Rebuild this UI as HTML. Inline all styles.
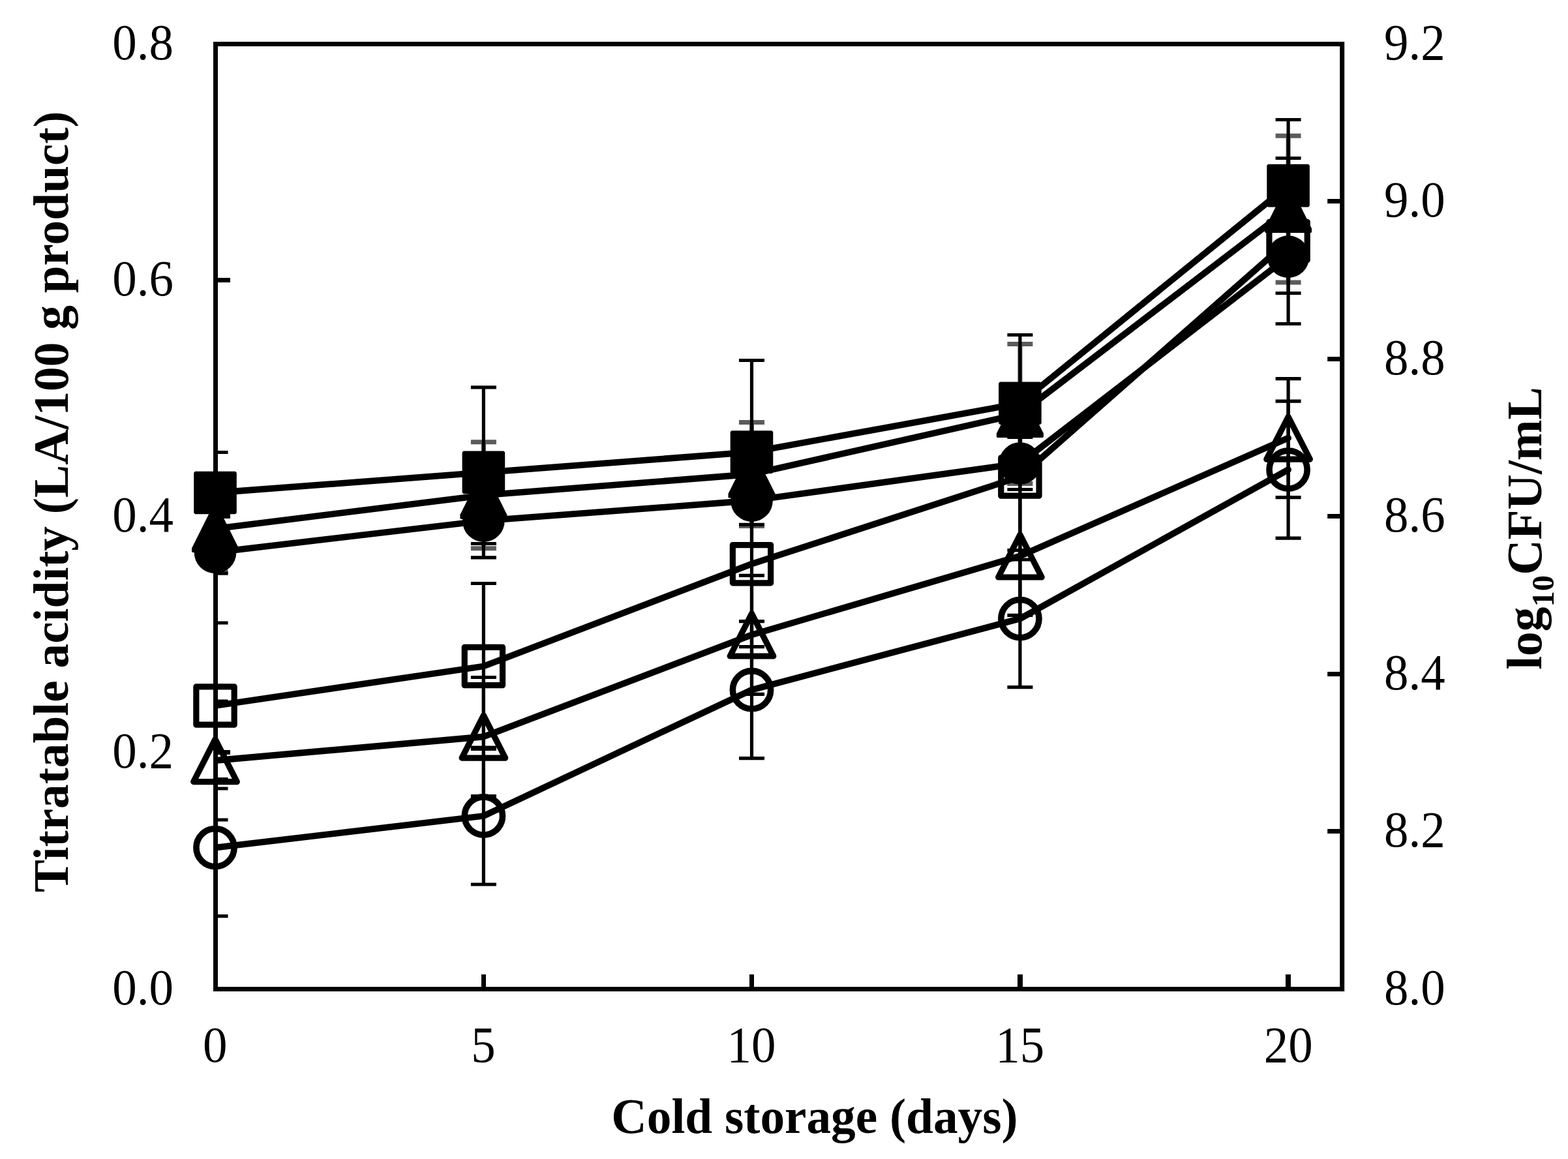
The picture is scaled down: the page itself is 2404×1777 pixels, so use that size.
<!DOCTYPE html>
<html lang="en"><head><meta charset="utf-8"><title>Titratable acidity and viable counts during cold storage</title>
<style>html,body{margin:0;padding:0;background:#fff}body{width:2404px;height:1777px;overflow:hidden}svg{display:block}text{font-family:"Liberation Serif","DejaVu Serif",serif;fill:#000}</style></head><body>
<svg role="img" aria-label="Titratable acidity and viable counts during cold storage" width="2404" height="1777" viewBox="0 0 2404 1777">
<rect width="2404" height="1777" fill="#fff"/>
<defs><clipPath id="plot"><rect x="329.00" y="67.50" width="1728.70" height="1449.00"/></clipPath></defs>
<rect x="330.50" y="67.50" width="1727.20" height="1449.00" fill="none" stroke="#000" stroke-width="7.00" stroke-linejoin="miter"/>
<path d="M330.50 1153.50H353.00M330.50 791.50H353.00M330.50 429.50H353.00M2057.70 1274.50H2035.20M2057.70 1033.50H2035.20M2057.70 791.50H2035.20M2057.70 550.50H2035.20M2057.70 308.50H2035.20" fill="none" stroke="#000" stroke-width="7.00"/>
<rect x="738" y="1494" width="7" height="22" fill="#000"/>
<rect x="1149" y="1494" width="7" height="22" fill="#000"/>
<rect x="1560" y="1494" width="8" height="22" fill="#000"/>
<rect x="1971" y="1494" width="8" height="22" fill="#000"/>
<g clip-path="url(#plot)">
<path d="M330.00 744.10V877.10M310.50 744.10h39.00M310.50 877.10h39.00" fill="none" stroke="#5c5c5c" stroke-width="7.00"/>
<path d="M741.40 677.80V840.80M721.90 677.80h39.00M721.90 840.80h39.00" fill="none" stroke="#5c5c5c" stroke-width="7.00"/>
<path d="M1152.50 647.50V806.50M1133.00 647.50h39.00M1133.00 806.50h39.00" fill="none" stroke="#5c5c5c" stroke-width="7.00"/>
<path d="M1563.90 527.60V741.40M1544.40 527.60h39.00M1544.40 741.40h39.00" fill="none" stroke="#5c5c5c" stroke-width="7.00"/>
<path d="M1975.10 208.20V433.00M1955.60 208.20h39.00M1955.60 433.00h39.00" fill="none" stroke="#5c5c5c" stroke-width="7.00"/>
<path d="M330.00 693.50V817.50M310.50 693.50h39.00M310.50 817.50h39.00" fill="none" stroke="#000" stroke-width="5.20"/>
<path d="M741.40 593.90V854.90M721.90 593.90h39.00M721.90 854.90h39.00" fill="none" stroke="#000" stroke-width="5.20"/>
<path d="M1152.50 552.50V833.70M1133.00 552.50h39.00M1133.00 833.70h39.00" fill="none" stroke="#000" stroke-width="5.20"/>
<path d="M1563.90 513.50V723.10M1544.40 513.50h39.00M1544.40 723.10h39.00" fill="none" stroke="#000" stroke-width="5.20"/>
<path d="M1975.10 183.50V385.70M1955.60 183.50h39.00M1955.60 385.70h39.00" fill="none" stroke="#000" stroke-width="5.20"/>
<path d="M330.00 814.40V879.20M310.50 814.40h39.00M310.50 879.20h39.00" fill="none" stroke="#000" stroke-width="5.20"/>
<path d="M741.40 763.50V833.50M721.90 763.50h39.00M721.90 833.50h39.00" fill="none" stroke="#000" stroke-width="5.20"/>
<path d="M1152.50 730.60V804.40M1133.00 730.60h39.00M1133.00 804.40h39.00" fill="none" stroke="#000" stroke-width="5.20"/>
<path d="M1563.90 670.50V750.50M1544.40 670.50h39.00M1544.40 750.50h39.00" fill="none" stroke="#000" stroke-width="5.20"/>
<path d="M1975.10 337.70V449.50M1955.60 337.70h39.00M1955.60 449.50h39.00" fill="none" stroke="#000" stroke-width="5.20"/>
<path d="M330.00 955.00V1209.00M310.50 955.00h39.00M310.50 1209.00h39.00" fill="none" stroke="#000" stroke-width="5.20"/>
<path d="M741.40 894.50V1148.50M721.90 894.50h39.00M721.90 1148.50h39.00" fill="none" stroke="#000" stroke-width="5.20"/>
<path d="M1152.50 737.70V991.70M1133.00 737.70h39.00M1133.00 991.70h39.00" fill="none" stroke="#000" stroke-width="5.20"/>
<path d="M1563.90 604.00V858.00M1544.40 604.00h39.00M1544.40 858.00h39.00" fill="none" stroke="#000" stroke-width="5.20"/>
<path d="M1975.10 242.50V496.50M1955.60 242.50h39.00M1955.60 496.50h39.00" fill="none" stroke="#000" stroke-width="5.20"/>
<path d="M330.00 1075.00V1257.00M310.50 1075.00h39.00M310.50 1257.00h39.00" fill="none" stroke="#000" stroke-width="5.20"/>
<path d="M741.40 1038.50V1220.50M721.90 1038.50h39.00M721.90 1220.50h39.00" fill="none" stroke="#000" stroke-width="5.20"/>
<path d="M1152.50 882.40V1064.40M1133.00 882.40h39.00M1133.00 1064.40h39.00" fill="none" stroke="#000" stroke-width="5.20"/>
<path d="M1563.90 761.40V943.40M1544.40 761.40h39.00M1544.40 943.40h39.00" fill="none" stroke="#000" stroke-width="5.20"/>
<path d="M1975.10 580.60V762.60M1955.60 580.60h39.00M1955.60 762.60h39.00" fill="none" stroke="#000" stroke-width="5.20"/>
<path d="M330.00 1194.60V1404.60M310.50 1194.60h39.00M310.50 1404.60h39.00" fill="none" stroke="#000" stroke-width="5.20"/>
<path d="M741.40 1146.00V1356.00M721.90 1146.00h39.00M721.90 1356.00h39.00" fill="none" stroke="#000" stroke-width="5.20"/>
<path d="M1152.50 952.70V1162.70M1133.00 952.70h39.00M1133.00 1162.70h39.00" fill="none" stroke="#000" stroke-width="5.20"/>
<path d="M1563.90 843.60V1053.60M1544.40 843.60h39.00M1544.40 1053.60h39.00" fill="none" stroke="#000" stroke-width="5.20"/>
<path d="M1975.10 615.10V825.10M1955.60 615.10h39.00M1955.60 825.10h39.00" fill="none" stroke="#000" stroke-width="5.20"/>
<polyline points="330.00,755.50 741.40,724.40 1152.50,693.10 1563.90,618.30 1975.10,284.60" fill="none" stroke="#000" stroke-width="9.80" stroke-linejoin="round" stroke-linecap="round"/>
<polyline points="330.00,810.60 741.40,759.30 1152.50,727.00 1563.90,634.50 1975.10,320.60" fill="none" stroke="#000" stroke-width="9.80" stroke-linejoin="round" stroke-linecap="round"/>
<polyline points="330.00,846.80 741.40,798.50 1152.50,767.50 1563.90,710.50 1975.10,393.60" fill="none" stroke="#000" stroke-width="9.80" stroke-linejoin="round" stroke-linecap="round"/>
<polyline points="330.00,1082.00 741.40,1021.50 1152.50,864.70 1563.90,731.00 1975.10,369.50" fill="none" stroke="#000" stroke-width="9.80" stroke-linejoin="round" stroke-linecap="round"/>
<polyline points="330.00,1166.00 741.40,1129.50 1152.50,973.40 1563.90,852.40 1975.10,671.60" fill="none" stroke="#000" stroke-width="9.80" stroke-linejoin="round" stroke-linecap="round"/>
<polyline points="330.00,1299.60 741.40,1251.00 1152.50,1057.70 1563.90,948.60 1975.10,720.10" fill="none" stroke="#000" stroke-width="9.80" stroke-linejoin="round" stroke-linecap="round"/>
</g>
<circle cx="330.00" cy="1299.60" r="29.10" fill="none" stroke="#000" stroke-width="9.60"/>
<circle cx="741.40" cy="1251.00" r="29.10" fill="none" stroke="#000" stroke-width="9.60"/>
<circle cx="1152.50" cy="1057.70" r="29.10" fill="none" stroke="#000" stroke-width="9.60"/>
<circle cx="1563.90" cy="948.60" r="29.10" fill="none" stroke="#000" stroke-width="9.60"/>
<circle cx="1975.10" cy="720.10" r="29.10" fill="none" stroke="#000" stroke-width="9.60"/>
<path d="M330.00 1133.40L363.30 1198.60L296.70 1198.60Z" fill="none" stroke="#000" stroke-width="9.20" stroke-linejoin="round"/>
<path d="M741.40 1096.90L774.70 1162.10L708.10 1162.10Z" fill="none" stroke="#000" stroke-width="9.20" stroke-linejoin="round"/>
<path d="M1152.50 940.80L1185.80 1006.00L1119.20 1006.00Z" fill="none" stroke="#000" stroke-width="9.20" stroke-linejoin="round"/>
<path d="M1563.90 819.80L1597.20 885.00L1530.60 885.00Z" fill="none" stroke="#000" stroke-width="9.20" stroke-linejoin="round"/>
<path d="M1975.10 639.00L2008.40 704.20L1941.80 704.20Z" fill="none" stroke="#000" stroke-width="9.20" stroke-linejoin="round"/>
<rect x="300.85" y="1052.85" width="58.30" height="58.30" fill="none" stroke="#000" stroke-width="9.20" stroke-linejoin="round"/>
<rect x="712.25" y="992.35" width="58.30" height="58.30" fill="none" stroke="#000" stroke-width="9.20" stroke-linejoin="round"/>
<rect x="1123.35" y="835.55" width="58.30" height="58.30" fill="none" stroke="#000" stroke-width="9.20" stroke-linejoin="round"/>
<rect x="1534.75" y="701.85" width="58.30" height="58.30" fill="none" stroke="#000" stroke-width="9.20" stroke-linejoin="round"/>
<rect x="1945.95" y="340.35" width="58.30" height="58.30" fill="none" stroke="#000" stroke-width="9.20" stroke-linejoin="round"/>
<circle cx="330.00" cy="846.80" r="32.35" fill="#000"/>
<circle cx="741.40" cy="798.50" r="32.35" fill="#000"/>
<circle cx="1152.50" cy="767.50" r="32.35" fill="#000"/>
<circle cx="1563.90" cy="710.50" r="32.35" fill="#000"/>
<circle cx="1975.10" cy="393.60" r="32.35" fill="#000"/>
<path d="M330.00 768.50L366.00 840.50L366.00 845.80L364.80 847.00L295.20 847.00L294.00 845.80L294.00 840.50Z" fill="#000"/>
<path d="M741.40 717.20L777.40 789.20L777.40 794.50L776.20 795.70L706.60 795.70L705.40 794.50L705.40 789.20Z" fill="#000"/>
<path d="M1152.50 684.90L1188.50 756.90L1188.50 762.20L1187.30 763.40L1117.70 763.40L1116.50 762.20L1116.50 756.90Z" fill="#000"/>
<path d="M1563.90 592.40L1599.90 664.40L1599.90 669.70L1598.70 670.90L1529.10 670.90L1527.90 669.70L1527.90 664.40Z" fill="#000"/>
<path d="M1975.10 278.50L2011.10 350.50L2011.10 355.80L2009.90 357.00L1940.30 357.00L1939.10 355.80L1939.10 350.50Z" fill="#000"/>
<rect x="299.20" y="724.70" width="61.60" height="61.60" fill="#000" stroke="#000" stroke-width="4.00" stroke-linejoin="bevel"/>
<rect x="710.60" y="693.60" width="61.60" height="61.60" fill="#000" stroke="#000" stroke-width="4.00" stroke-linejoin="bevel"/>
<rect x="1121.70" y="662.30" width="61.60" height="61.60" fill="#000" stroke="#000" stroke-width="4.00" stroke-linejoin="bevel"/>
<rect x="1533.10" y="587.50" width="61.60" height="61.60" fill="#000" stroke="#000" stroke-width="4.00" stroke-linejoin="bevel"/>
<rect x="1944.30" y="253.80" width="61.60" height="61.60" fill="#000" stroke="#000" stroke-width="4.00" stroke-linejoin="bevel"/>
<text transform="translate(266.00 1539.50) scale(1 1.03)" font-size="75" text-anchor="end">0.0</text>
<text transform="translate(266.00 1177.25) scale(1 1.03)" font-size="75" text-anchor="end">0.2</text>
<text transform="translate(266.00 815.00) scale(1 1.03)" font-size="75" text-anchor="end">0.4</text>
<text transform="translate(266.00 452.75) scale(1 1.03)" font-size="75" text-anchor="end">0.6</text>
<text transform="translate(266.00 90.50) scale(1 1.03)" font-size="75" text-anchor="end">0.8</text>
<text transform="translate(2122.00 1539.50) scale(1 1.03)" font-size="75" text-anchor="start">8.0</text>
<text transform="translate(2122.00 1298.00) scale(1 1.03)" font-size="75" text-anchor="start">8.2</text>
<text transform="translate(2122.00 1056.50) scale(1 1.03)" font-size="75" text-anchor="start">8.4</text>
<text transform="translate(2122.00 815.00) scale(1 1.03)" font-size="75" text-anchor="start">8.6</text>
<text transform="translate(2122.00 573.50) scale(1 1.03)" font-size="75" text-anchor="start">8.8</text>
<text transform="translate(2122.00 332.00) scale(1 1.03)" font-size="75" text-anchor="start">9.0</text>
<text transform="translate(2122.00 90.50) scale(1 1.03)" font-size="75" text-anchor="start">9.2</text>
<text transform="translate(329.80 1628.30) scale(1 1.03)" font-size="75" text-anchor="middle">0</text>
<text transform="translate(741.00 1628.30) scale(1 1.03)" font-size="75" text-anchor="middle">5</text>
<text transform="translate(1152.00 1628.30) scale(1 1.03)" font-size="75" text-anchor="middle">10</text>
<text transform="translate(1563.80 1628.30) scale(1 1.03)" font-size="75" text-anchor="middle">15</text>
<text transform="translate(1975.30 1628.30) scale(1 1.03)" font-size="75" text-anchor="middle">20</text>
<text x="1249" y="1737" font-size="75.3" font-weight="bold" text-anchor="middle">Cold storage (days)</text>
<text transform="translate(104 769.3) rotate(-90)" font-size="75.3" font-weight="bold" text-anchor="middle">Titratable acidity (LA/100 g product)</text>
<text transform="translate(2363 810) rotate(-90)" font-size="75.3" font-weight="bold" text-anchor="middle">log<tspan font-size="48.75" dy="19.2">10</tspan><tspan dy="-19.2">CFU/mL</tspan></text>
</svg></body></html>
